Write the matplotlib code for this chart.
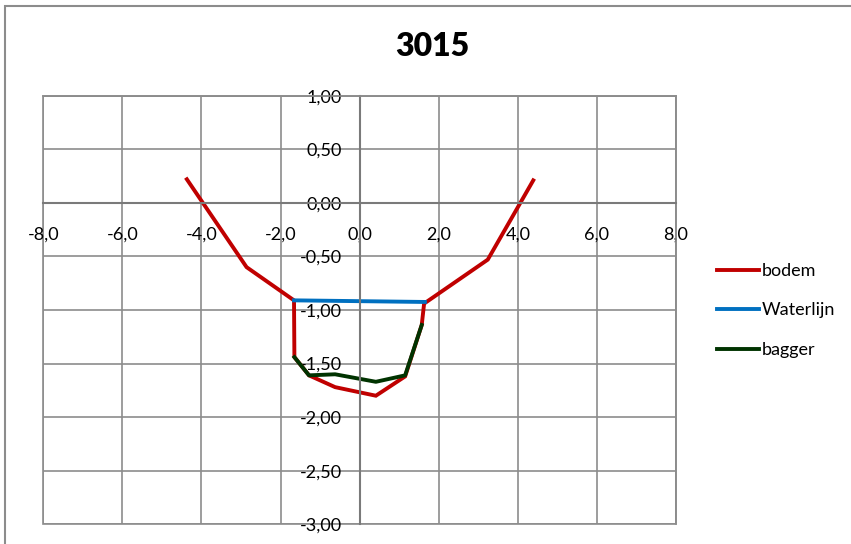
import matplotlib.pyplot as plt
from matplotlib.patches import Rectangle

# Profile 3015: bottom, water line and dredge line (x in m, y in m)
bodem_x = [-4.37, -2.86, -1.66, -1.65, -1.28, -0.62, 0.41, 1.15, 1.57, 1.63, 3.24, 4.39]
bodem_y = [0.22, -0.60, -0.91, -1.44, -1.61, -1.72, -1.80, -1.62, -1.14, -0.94, -0.53, 0.21]

water_x = [-1.66, 1.65]
water_y = [-0.91, -0.925]

bagger_x = [-1.65, -1.28, -0.62, 0.41, 1.15, 1.57]
bagger_y = [-1.44, -1.61, -1.60, -1.67, -1.61, -1.14]

x_ticks = [-8, -6, -4, -2, 0, 2, 4, 6, 8]
y_ticks = [1.0, 0.5, 0.0, -0.5, -1.0, -1.5, -2.0, -2.5, -3.0]

plt.rcParams['font.family'] = ['Lato', 'DejaVu Sans']

W, H = 851, 544
fig = plt.figure(figsize=(W / 100, H / 100), dpi=100)
ax = fig.add_axes([43.3 / W, 1 - 524.3 / H, (676 - 43.3) / W, (524.3 - 95.7) / H])

ax.plot(bodem_x, bodem_y, color='#C00000', lw=2.8, label='bodem', solid_joinstyle='miter')
ax.plot(water_x, water_y, color='#0070C0', lw=2.8, label='Waterlijn')
ax.plot(bagger_x, bagger_y, color='#003300', lw=2.8, label='bagger')

ax.set_xlim(-8, 8)
ax.set_ylim(-3, 1)
ax.set_xticks(x_ticks)
ax.set_yticks(y_ticks)
ax.set_xticklabels([f'{v:.1f}'.replace('.', ',') for v in x_ticks])
ax.set_yticklabels([f'{v:.2f}'.replace('.', ',') for v in y_ticks])

# grid on every tick, axes crossing at the origin
ax.grid(True, color='#8c8c8c', lw=1.2)
ax.set_axisbelow(True)
for side in ['top', 'right']:
    ax.spines[side].set_color('#8c8c8c')
    ax.spines[side].set_linewidth(1.2)
ax.spines['left'].set_position(('data', 0))
ax.spines['bottom'].set_position(('data', 0))
for side in ['left', 'bottom']:
    ax.spines[side].set_color('#7a7a7a')
    ax.spines[side].set_linewidth(1.5)
ax.tick_params(axis='both', length=0, labelsize=13)
ax.tick_params(axis='y', pad=13)
ax.tick_params(axis='x', pad=17)

# frame for the outer edges of the plot area
ax.add_patch(Rectangle((0, 0), 1, 1, transform=ax.transAxes, fill=False,
                       edgecolor='#8c8c8c', lw=1.2, zorder=0.5, clip_on=False))

fig.text(432 / W, 1 - 47 / H, '3015', ha='center', va='center',
         fontsize=23, fontweight='heavy')

fig.legend(loc='upper left', bbox_to_anchor=(717 / W, 1 - 263 / H),
           frameon=False, fontsize=13, handlelength=2.3, handletextpad=0.2,
           labelspacing=1.3, borderpad=0, borderaxespad=0)

# chart border
fig.add_artist(Rectangle((5 / W, -0.1), 1.2, 1.1 - 6 / H, transform=fig.transFigure,
                         fill=False, edgecolor='#8c8c8c', lw=1.5))

fig.savefig('out.png', dpi=100)
